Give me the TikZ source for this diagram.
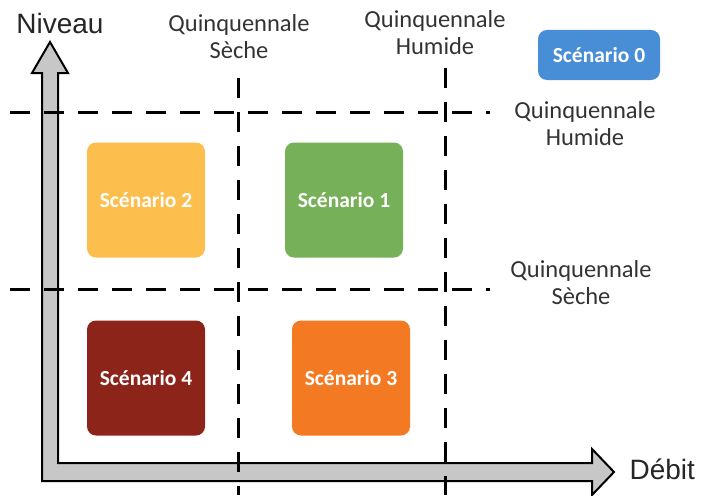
\documentclass[tikz,border=0pt]{standalone}
\usepackage{fontspec}
\setmainfont{Carlito}
\newfontfamily\arialfont{Liberation Sans}
\usepackage{tikz}
\usetikzlibrary{positioning,calc}
\usepackage{xcolor}
\definecolor{scnzero}{RGB}{72,142,214}
\definecolor{scnone}{RGB}{118,176,88}
\definecolor{scntwo}{RGB}{252,190,76}
\definecolor{scnthree}{RGB}{243,122,34}
\definecolor{scnfour}{RGB}{140,36,26}
\tikzset{
  scn/.style ={rounded corners=9pt,text=white,inner sep=0pt,
               font=\bfseries\fontsize{21.5}{24}\selectfont},
  big/.style ={minimum width=118pt,minimum height=115pt},
  lim/.style ={draw,line width=3pt,dash pattern=on 20pt off 14pt},
  lab/.style ={align=center,text=black!80,font=\fontsize{24.5}{27}\selectfont},
  ax/.style  ={text=black!85,font=\arialfont\fontsize{28}{32}\selectfont},
  axe/.style ={draw,line width=2pt,fill=black!22,line join=miter},
}

\begin{document}
\begin{tikzpicture}[x=1pt,y=-1pt]
\useasboundingbox (0,0) rectangle (703,495);
% axes (one block arrow)
\path[axe] (42,481) -- (592,481) -- (592,495) -- (614,472) -- (592,449) -- (592,463)
  -- (58,463) -- (58,73) -- (68,73) -- (50,42) -- (32,73) -- (42,73) -- cycle;
\coordinate (tipx) at (614,472);
\coordinate (tipy) at (50,42);
\node[ax] (niv) at (60,23) {Niveau};
\node[ax,right=12pt of tipx,anchor=west,yshift=3pt] (deb) {Débit};
% limits
\coordinate (hh0) at (10,112);  \coordinate (hh1) at (490,112);
\coordinate (hs0) at (10,289);  \coordinate (hs1) at (490,289);
\coordinate (vs0) at (238,78);  \coordinate (vs1) at (238,495);
\coordinate (vh0) at (445,68);  \coordinate (vh1) at (445,495);
\draw[lim] (hh0) -- (hh1);
\draw[lim] (hs0) -- (hs1);
\draw[lim] (vs0) -- (vs1);
\draw[lim] (vh0) -- (vh1);
\node[lab] (qs) at (239,37) {Quinquennale\\Sèche};
\node[lab] (qh) at (435,33) {Quinquennale\\Humide};
\node[lab] (rh) at (585,124) {Quinquennale\\Humide};
\node[lab] (rs) at (581,283) {Quinquennale\\Sèche};
% scenarios
\node[scn,fill=scnzero,minimum width=122pt,minimum height=50pt] (s0) at (599,55) {Scénario 0};
\node[scn,big,fill=scntwo]   (s2) at (146,200) {Scénario 2};
\node[scn,big,fill=scnone]   (s1) at (344,200) {Scénario 1};
\node[scn,big,fill=scnfour]  (s4) at (146,378) {Scénario 4};
\node[scn,big,fill=scnthree] (s3) at (351,378) {Scénario 3};
\end{tikzpicture}
\end{document}
